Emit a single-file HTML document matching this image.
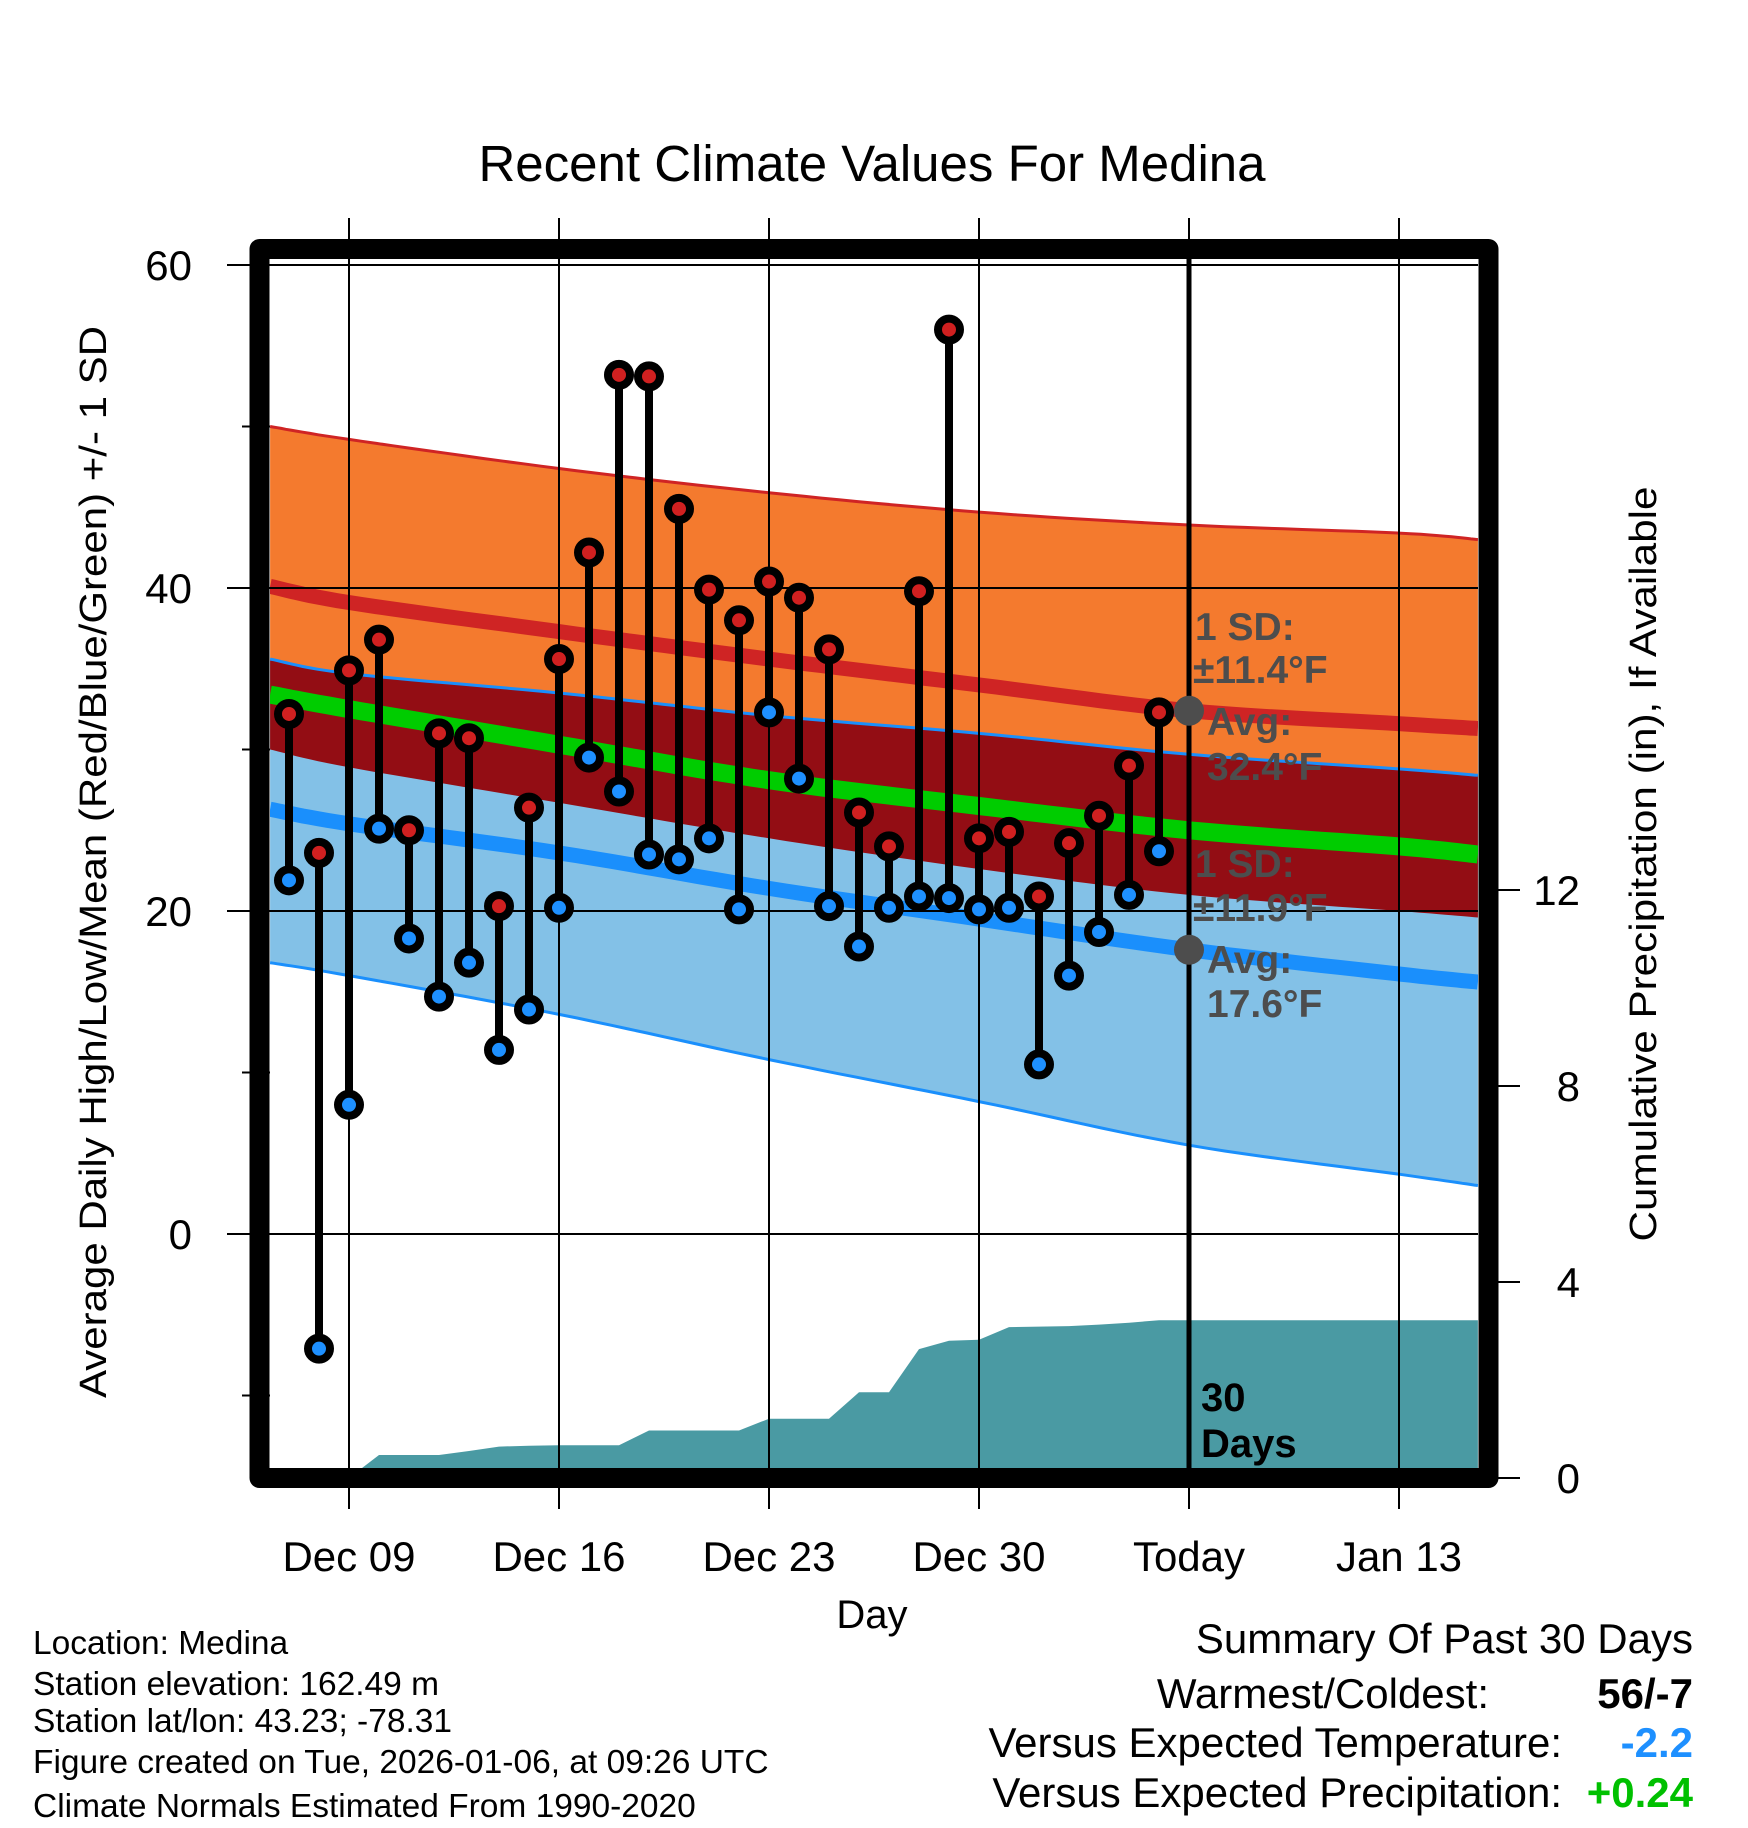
<!DOCTYPE html>
<html><head><meta charset="utf-8">
<style>
html,body{margin:0;padding:0;background:#fff;}
svg{display:block;font-family:"Liberation Sans",Arial,sans-serif;}
</style></head>
<body>
<svg id="chart" width="1748" height="1828" viewBox="0 0 1748 1828" xmlns="http://www.w3.org/2000/svg">
  <defs><clipPath id="plotclip"><rect x="270" y="259" width="1208" height="1209"/></clipPath></defs>
  <text x="872" y="181" font-size="51" text-anchor="middle">Recent Climate Values For Medina</text>
  <g id="bands" clip-path="url(#plotclip)"></g>
  <g id="precip" clip-path="url(#plotclip)"></g>
  <g id="grid"></g>
  <g id="marks"></g>
  <g id="annot"></g>
  <rect x="259.5" y="249" width="1229" height="1229" fill="none" stroke="#000" stroke-width="20" stroke-linejoin="round"/>
  <g id="axes"></g>
  <text transform="translate(106,862) rotate(-90)" font-size="38" text-anchor="middle" textLength="1072" lengthAdjust="spacingAndGlyphs">Average Daily High/Low/Mean (Red/Blue/Green) +/- 1 SD</text>
  <text transform="translate(1656,864) rotate(-90)" font-size="38" text-anchor="middle" textLength="755" lengthAdjust="spacingAndGlyphs">Cumulative Precipitation (in), If Available</text>
  <text x="872" y="1628" font-size="40" text-anchor="middle">Day</text>
  <g font-size="33.5">
    <text x="33" y="1654">Location: Medina</text>
    <text x="33" y="1695">Station elevation: 162.49 m</text>
    <text x="33" y="1732">Station lat/lon: 43.23; -78.31</text>
    <text x="33" y="1773">Figure created on Tue, 2026-01-06, at 09:26 UTC</text>
    <text x="33" y="1817">Climate Normals Estimated From 1990-2020</text>
  </g>
  <g font-size="42">
    <text x="1693" y="1653" text-anchor="end">Summary Of Past 30 Days</text>
    <text x="1489" y="1708" text-anchor="end">Warmest/Coldest:</text>
    <text x="1693" y="1708" text-anchor="end" font-weight="bold">56/-7</text>
    <text x="1562" y="1757" text-anchor="end">Versus Expected Temperature:</text>
    <text x="1693" y="1757" text-anchor="end" font-weight="bold" fill="#1e90ff">-2.2</text>
    <text x="1562" y="1807" text-anchor="end">Versus Expected Precipitation:</text>
    <text x="1693" y="1807" text-anchor="end" font-weight="bold" fill="#00c000">+0.24</text>
  </g>
</svg>
<script>
// ---- data ----
const highs = [32.2,23.6,34.9,36.8,25.0,31.0,30.7,20.3,26.4,35.6,42.2,53.2,53.1,44.9,39.9,38.0,40.4,39.4,36.2,26.1,24.0,39.8,56.0,24.5,24.9,20.9,24.2,25.9,29.0,32.3];
const lows = [21.9,-7.1,8.0,25.1,18.3,14.7,16.8,11.4,13.9,20.2,29.5,27.4,23.5,23.2,24.5,20.1,32.3,28.2,20.3,17.8,20.2,20.9,20.8,20.1,20.2,10.5,16.0,18.7,21.0,23.7];
const precip = [0,0,0,0.47,0.47,0.47,0.55,0.64,0.66,0.67,0.67,0.67,0.97,0.97,0.97,0.97,1.21,1.21,1.21,1.75,1.75,2.63,2.8,2.82,3.08,3.09,3.1,3.13,3.17,3.22];
const normDays = [-0.63,2,9,16,23,30,37,39.63];
const hiUpper = [50.0,49.2,47.4,45.9,44.7,43.9,43.4,43.0];
const hiMean = [40.1,39.1,37.3,35.6,34.0,32.4,31.6,31.3];
const hiLower = [30.0,28.9,26.7,24.5,22.6,21.0,20.0,19.6];
const loUpper = [35.6,34.7,33.5,32.1,31.0,29.7,28.8,28.4];
const loMean = [26.3,25.4,23.6,21.4,19.5,17.6,16.1,15.6];
const loLower = [16.8,16.0,13.6,10.8,8.2,5.5,3.7,3.0];
const avgMean = [33.4,32.5,30.3,28.1,26.5,25.0,24.0,23.5];
const xTickDays = [2,9,16,23,30,37];
const xTickLabels = ["Dec 09","Dec 16","Dec 23","Dec 30","Today","Jan 13"];
const yTicks = [0,20,40,60];
const yMinor = [-10,10,30,50];
const y2Ticks = [0,4,8,12];
const todayDay = 30;
const lastDay = 39.63;

// ---- scales ----
const X = d => 289 + 30*d;
const Y = v => 1234 - 16.15*v;
const Y2 = p => 1478 - 49*p;
const NS = "http://www.w3.org/2000/svg";
function mk(tag, parent, attrs){const e=document.createElementNS(NS,tag);for(const k in attrs)e.setAttribute(k,attrs[k]);parent.appendChild(e);return e;}
// Catmull-Rom smoothing through knots
function smooth(arr){
  const out=[]; const n=normDays.length;
  for(let i=0;i<n-1;i++){
    const p0=i>0?i-1:i, p3=i+2<n?i+2:i+1;
    for(let s=0;s<12;s++){
      const t=s/12;
      const f=(a)=>{const v0=a[p0],v1=a[i],v2=a[i+1],v3=a[p3];
        return 0.5*((2*v1)+(-v0+v2)*t+(2*v0-5*v1+4*v2-v3)*t*t+(-v0+3*v1-3*v2+v3)*t*t*t);};
      out.push(X(f(normDays)).toFixed(1)+","+Y(f(arr)).toFixed(1));
    }
  }
  out.push(X(normDays[n-1]).toFixed(1)+","+Y(arr[n-1]).toFixed(1));
  return out;
}

// ---- bands ----
const bands = document.getElementById('bands');
function band(up, lo, color, name){
  const p = smooth(up).concat(smooth(lo).reverse()).join(" ");
  const e = mk('polygon', bands, {points:p, fill:color});
  
  
}
band(hiUpper, hiLower, '#f47a2e', 'high-sd-band');
band(loUpper, loLower, '#83c1e7', 'low-sd-band');
band(loUpper, hiLower, '#930d14', 'overlap-band');
function line(arr, color, w, name){
  const e = mk('polyline', bands, {points:smooth(arr).join(" "), fill:'none', stroke:color, 'stroke-width':w});
  
  
}
line(hiUpper, '#cf2424', 3, 'high-upper-line');
line(loUpper, '#1a8ffc', 3, 'low-upper-line');
line(loLower, '#1a8ffc', 3, 'low-lower-line');
line(hiMean, '#cf2424', 15, 'high-mean-line');
line(loMean, '#1a8ffc', 15, 'low-mean-line');
line(avgMean, '#00cc00', 18, 'avg-mean-line');

// ---- precip ----
const pg = document.getElementById('precip');
let pp = precip.map((v,i)=>X(i).toFixed(1)+","+Y2(v).toFixed(1));
pp.push(X(lastDay)+","+Y2(precip[precip.length-1]));
pp.push(X(lastDay)+","+Y2(0)); pp.push(X(0)+","+Y2(0));
const pa = mk('polygon', pg, {points:pp.join(" "), fill:'#4a9aa3'});



// ---- grid ----
const grid = document.getElementById('grid');
yTicks.forEach(v=>{
  const l = mk('line', grid, {x1:227, x2:1478, y1:Y(v), y2:Y(v), stroke:'#000', 'stroke-width':2});
  
  
});
yMinor.forEach(v=>{
  const l = mk('line', grid, {x1:242, x2:270, y1:Y(v), y2:Y(v), stroke:'#000', 'stroke-width':2});
  
  
});
xTickDays.forEach(d=>{
  const l = mk('line', grid, {x1:X(d), x2:X(d), y1:218, y2:1509, stroke:'#000', 'stroke-width':2});
  
  
});
const tl = mk('line', grid, {x1:X(todayDay), x2:X(todayDay), y1:259, y2:1468, stroke:'#000', 'stroke-width':5});



// ---- marks ----
const marks = document.getElementById('marks');
highs.forEach((h,i)=>{
  const s = mk('line', marks, {x1:X(i), x2:X(i), y1:Y(h), y2:Y(lows[i]), stroke:'#000', 'stroke-width':8});
  
  
});
highs.forEach((h,i)=>{
  const c1 = mk('circle', marks, {cx:X(i), cy:Y(h), r:11, fill:'#d02020', stroke:'#000', 'stroke-width':8});
  
  
  const c2 = mk('circle', marks, {cx:X(i), cy:Y(lows[i]), r:11, fill:'#1e90ff', stroke:'#000', 'stroke-width':8});
  
  
});

// ---- annotations ----
const an = document.getElementById('annot');
const todayHi = hiMean[5], todayLo = loMean[5];
const d1 = mk('circle', an, {cx:X(todayDay), cy:Y(todayHi), r:15, fill:'#4d4d4d'});


const d2 = mk('circle', an, {cx:X(todayDay), cy:Y(todayLo), r:15, fill:'#4d4d4d'});


const annTexts = [
  [1195,640,"1 SD:"],[1193,683,"±11.4°F"],[1207,735,"Avg:"],[1207,780,todayHi.toFixed(1)+"°F"],
  [1195,877,"1 SD:"],[1193,921,"±11.9°F"],[1207,973,"Avg:"],[1207,1017,todayLo.toFixed(1)+"°F"]
];
annTexts.forEach(a=>{
  const t = mk('text', an, {x:a[0], y:a[1], 'font-size':39, 'font-weight':'bold', fill:'#4d4d4d'});
  t.textContent = a[2];
  
  
});
const t30 = mk('text', an, {x:1201, y:1411, 'font-size':40, 'font-weight':'bold'}); t30.textContent="30";


const tdy = mk('text', an, {x:1201, y:1457, 'font-size':40, 'font-weight':'bold'}); tdy.textContent="Days";



// ---- axes ----
const ax = document.getElementById('axes');
yTicks.forEach(v=>{
  const t = mk('text', ax, {x:192, y:Y(v)+15, 'font-size':42, 'text-anchor':'end'}); t.textContent = v;
  
  
});
y2Ticks.forEach(v=>{
  const l = mk('line', ax, {x1:1498, x2:1520, y1:Y2(v), y2:Y2(v), stroke:'#000', 'stroke-width':2});
  
  
  const t = mk('text', ax, {x:1580, y:Y2(v)+15, 'font-size':42, 'text-anchor':'end'}); t.textContent = v;
  
  
});
xTickDays.forEach((d,i)=>{
  const t = mk('text', ax, {x:X(d), y:1571, 'font-size':42, 'text-anchor':'middle'}); t.textContent = xTickLabels[i];
  
  
});
</script>
</body></html>
